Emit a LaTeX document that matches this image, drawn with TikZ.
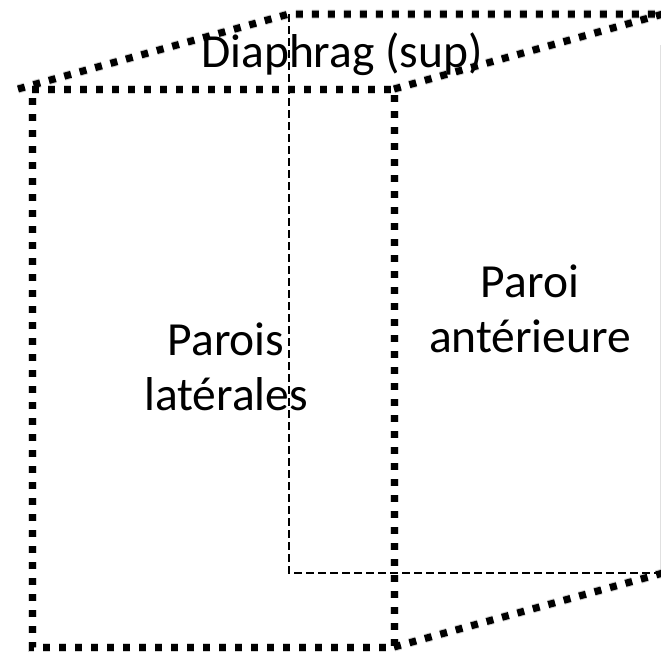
\documentclass[tikz,border=0pt]{standalone}
\usepackage{fontspec}
\setmainfont{Carlito}
\begin{document}
\begin{tikzpicture}[x=1pt,y=-1pt,
  edge/.style={line width=7pt,dash pattern=on 7pt off 9pt,black},
  edgeshadow/.style={line width=9pt,dash pattern=on 7pt off 9pt,black,opacity=0.18},
  hidden/.style={line width=1.1pt,dash pattern=on 8pt off 4pt,black},
  label/.style={font=\fontsize{47.5}{55}\selectfont,align=center,inner sep=0pt}]
\useasboundingbox (0,0) rectangle (661,657);
\clip (0,0) rectangle (661,657);
% corners of the box
\coordinate (ftl) at (32,89);
\coordinate (ftr) at (394,89);
\coordinate (fbr) at (394,647);
\coordinate (fbl) at (32,647);
\coordinate (tl0) at (18,89);
\coordinate (btl) at (289,14);
\coordinate (btr) at (663,14);
\coordinate (bbl) at (289,573);
\coordinate (bbr) at (663,573);
% labels
\node[label,anchor=base] (diaph) at (342,67) {Diaphrag (sup)};
\node[label] (lat) at (226,367) {Parois\ \\latérales};
\node[label] (ant) at (530,309) {Paroi\\antérieure};
% hidden edges
\draw[hidden] (btl) -- (bbl) -- (bbr);
\draw[black!12,line width=1pt] (660,45) -- (660,570);
% shadows of the visible edges
\begin{scope}[shift={(2,4)}]
\draw[edgeshadow] (ftl) -- (ftr) -- (fbr) -- (fbl) -- cycle;
\draw[edgeshadow] (tl0) -- (btl) -- (btr);
\draw[edgeshadow] (ftr) -- (btr);
\draw[edgeshadow] (fbr) -- (bbr);
\end{scope}
% visible edges
\draw[edge] (ftl) -- (ftr) -- (fbr) -- (fbl) -- cycle;
\draw[edge] (tl0) -- (btl) -- (btr);
\draw[edge] (ftr) -- (btr);
\draw[edge] (fbr) -- (bbr);
\end{tikzpicture}
\end{document}
